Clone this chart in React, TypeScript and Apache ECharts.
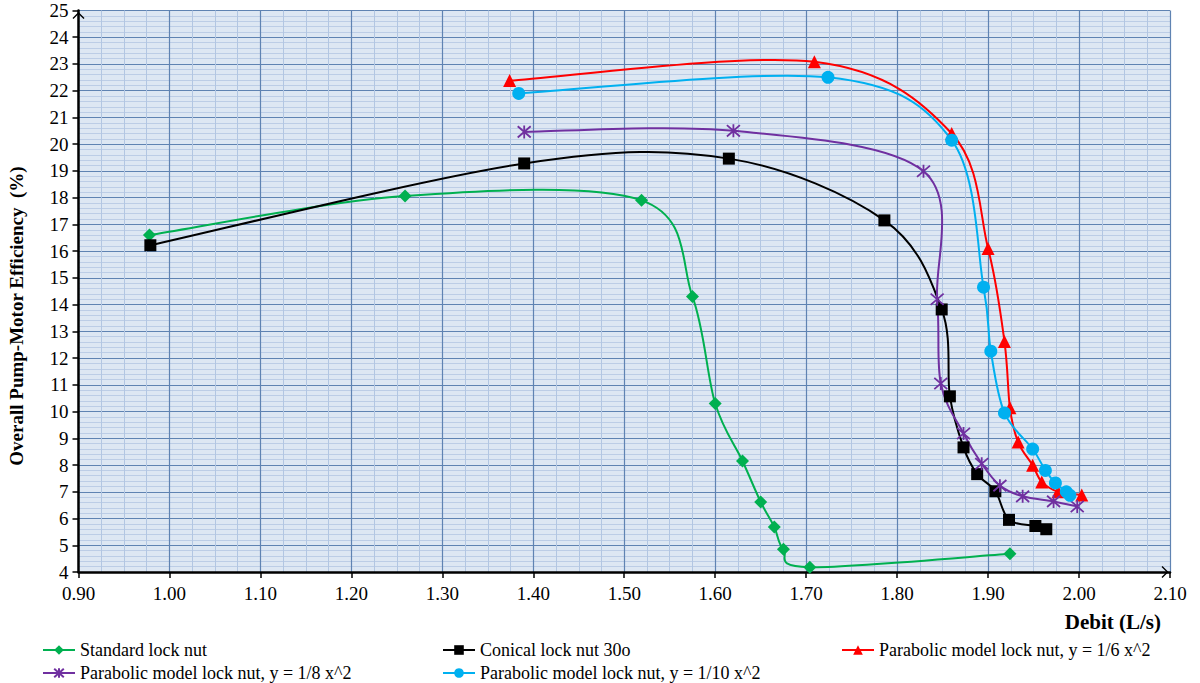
import React, { useEffect, useRef } from "react";
import * as echarts from "echarts";

const FONT = "Liberation Serif";

const seriesNames = [
  "Standard lock nut",
  "Conical lock nut 30o",
  "Parabolic model lock nut, y = 1/6 x^2",
  "Parabolic model lock nut, y = 1/8 x^2",
  "Parabolic model lock nut, y = 1/10 x^2",
];
const seriesColors = ["#00b050", "#000000", "#ff0000", "#7030a0", "#00b0f0"];

const standardX = [0.978, 1.259, 1.519, 1.575, 1.6, 1.63, 1.65, 1.665, 1.675, 1.704, 1.924];
const standardY = [16.6, 18.06, 17.9, 14.3, 10.3, 8.15, 6.62, 5.68, 4.85, 4.18, 4.68];

const conicalX = [0.979, 1.39, 1.615, 1.786, 1.849, 1.858, 1.873, 1.888, 1.908, 1.923, 1.952, 1.964];
const conicalY = [16.22, 19.28, 19.46, 17.15, 13.82, 10.57, 8.66, 7.66, 7.02, 5.95, 5.72, 5.6];

const para6X = [1.374, 1.709, 1.86, 1.9, 1.918, 1.924, 1.933, 1.949, 1.959, 1.977, 2.003];
const para6Y = [22.38, 23.08, 20.4, 16.1, 12.62, 10.14, 8.86, 7.99, 7.37, 7.0, 6.88];

const para8X = [1.39, 1.62, 1.829, 1.844, 1.848, 1.873, 1.893, 1.913, 1.938, 1.972, 1.998];
const para8Y = [20.46, 20.5, 18.99, 14.2, 11.05, 9.18, 8.05, 7.23, 6.83, 6.64, 6.45];

const para10X = [1.384, 1.724, 1.86, 1.895, 1.903, 1.918, 1.949, 1.963, 1.974, 1.986, 1.99];
const para10Y = [21.9, 22.5, 20.15, 14.65, 12.26, 9.95, 8.6, 7.8, 7.33, 7.0, 6.87];

const xTickMin = 0.9;
const xTickMax = 2.1;
const yTickMin = 4;
const yTickMax = 25;

const ARROW = "path://M0,0L10,10L8.4,11.6L0,3.2L-8.4,11.6L-10,10Z";
const ASTERISK = "path://M0,-6L0,6M-5.2,-5.2L5.2,5.2M-5.2,5.2L5.2,-5.2";

const zip = (xs: number[], ys: number[]) => xs.map((x, i) => [x, ys[i]]);

export default function App() {
  const ref = useRef<HTMLDivElement>(null);
  useEffect(() => {
    if (!ref.current) return;
    const chart = echarts.init(ref.current, undefined, { renderer: "svg" });

    // Smoothed connecting line (Excel-style Catmull-Rom), drawn through the axes' scales
    const curveSeries = (xs: number[], ys: number[], color: string) => ({
      type: "custom",
      data: zip(xs, ys),
      encode: { x: 0, y: 1 },
      clip: true,
      z: 2,
      silent: true,
      renderItem: (params: any, api: any) => {
        const i = params.dataIndex;
        const n = xs.length;
        if (i >= n - 1) return null;
        const p = (j: number) => {
          const k = Math.max(0, Math.min(n - 1, j));
          return api.coord([xs[k], ys[k]]);
        };
        const p0 = p(i - 1);
        const p1 = p(i);
        const p2 = p(i + 1);
        const p3 = p(i + 2);
        return {
          type: "bezierCurve",
          shape: {
            x1: p1[0],
            y1: p1[1],
            x2: p2[0],
            y2: p2[1],
            cpx1: p1[0] + (p2[0] - p0[0]) / 6,
            cpy1: p1[1] + (p2[1] - p0[1]) / 6,
            cpx2: p2[0] - (p3[0] - p1[0]) / 6,
            cpy2: p2[1] - (p3[1] - p1[1]) / 6,
          },
          style: { stroke: color, lineWidth: 2, fill: "none" },
        };
      },
    });

    const markerSeries = (
      name: string,
      xs: number[],
      ys: number[],
      color: string,
      symbol: string,
      size: number,
      extra: any = {}
    ) => ({
      name,
      type: "line",
      data: zip(xs, ys),
      symbol,
      symbolSize: size,
      showSymbol: true,
      lineStyle: { color, width: 2, opacity: 0 },
      itemStyle: { color, ...extra },
      z: 3,
    });

    const legendBase = {
      itemWidth: 32,
      itemHeight: 12,
      itemGap: 0,
      textStyle: { fontSize: 18, fontFamily: FONT, color: "#000" },
      lineStyle: { opacity: 1, width: 2 },
      selectedMode: false,
    };
    chart.setOption({
      animation: false,
      backgroundColor: "#ffffff",
      textStyle: { fontFamily: FONT },
      grid: {
        left: 78.5,
        right: 30,
        top: 10.5,
        bottom: 111,
        show: true,
        backgroundColor: "#dde7f3",
        borderWidth: 0,
      },
      xAxis: {
        type: "value",
        min: xTickMin,
        max: xTickMax,
        interval: 0.1,
        axisLine: {
          show: true,
          onZero: false,
          lineStyle: { color: "#000", width: 2.5 },
          symbol: ["none", ARROW],
          symbolSize: [12, 12],
          symbolOffset: [0, -5],
        },
        axisTick: { show: true, length: 6, lineStyle: { color: "#000", width: 1.5 } },
        axisLabel: {
          formatter: (v: number) => v.toFixed(2),
          fontSize: 19,
          fontFamily: FONT,
          color: "#000",
          margin: 12,
        },
        splitLine: { show: true, lineStyle: { color: "#5f83b2", width: 1.2 } },
        minorTick: { show: false, splitNumber: 4 },
        minorSplitLine: { show: true, lineStyle: { color: "#b2c6e2", width: 1 } },
      },
      yAxis: {
        type: "value",
        min: yTickMin,
        max: yTickMax,
        interval: 1,
        axisLine: {
          show: true,
          onZero: false,
          lineStyle: { color: "#000", width: 2.5 },
          symbol: ["none", ARROW],
          symbolSize: [12, 12],
          symbolOffset: [0, -5],
        },
        axisTick: { show: true, length: 6, lineStyle: { color: "#000", width: 1.5 } },
        axisLabel: { fontSize: 19, fontFamily: FONT, color: "#000", margin: 10 },
        splitLine: { show: true, lineStyle: { color: "#5f83b2", width: 1.2 } },
        minorTick: { show: false, splitNumber: 5 },
        minorSplitLine: { show: true, lineStyle: { color: "#bccde6", width: 1 } },
      },
      legend: [
        { ...legendBase, data: [seriesNames[0]], left: 37, top: 636 },
        { ...legendBase, data: [seriesNames[1]], left: 437, top: 636 },
        { ...legendBase, data: [seriesNames[2]], left: 836, top: 636 },
        { ...legendBase, data: [seriesNames[3]], left: 37, top: 659 },
        { ...legendBase, data: [seriesNames[4]], left: 437, top: 659 },
      ],
      graphic: [
        {
          type: "text",
          x: 1161,
          y: 622,
          style: {
            text: "Debit (L/s)",
            fontFamily: FONT,
            fontWeight: "bold",
            fontSize: 21,
            fill: "#000",
            align: "right",
            verticalAlign: "middle",
          },
        },
        {
          type: "text",
          x: 16,
          y: 316,
          rotation: Math.PI / 2,
          style: {
            text: "Overall Pump-Motor Efficiency  (%)",
            fontFamily: FONT,
            fontWeight: "bold",
            fontSize: 19,
            fill: "#000",
            align: "center",
            verticalAlign: "middle",
          },
        },
      ],
      series: [
        curveSeries(standardX, standardY, seriesColors[0]),
        curveSeries(conicalX, conicalY, seriesColors[1]),
        curveSeries(para6X, para6Y, seriesColors[2]),
        curveSeries(para8X, para8Y, seriesColors[3]),
        curveSeries(para10X, para10Y, seriesColors[4]),
        markerSeries(seriesNames[0], standardX, standardY, seriesColors[0], "diamond", 13),
        markerSeries(seriesNames[1], conicalX, conicalY, seriesColors[1], "rect", 12),
        markerSeries(seriesNames[2], para6X, para6Y, seriesColors[2], "triangle", 13),
        markerSeries(seriesNames[3], para8X, para8Y, seriesColors[3], ASTERISK, 13, {
          borderColor: seriesColors[3],
          borderWidth: 1.8,
        }),
        markerSeries(seriesNames[4], para10X, para10Y, seriesColors[4], "circle", 13),
      ],
    });
    return () => chart.dispose();
  }, []);
  return (
    <div
      ref={ref}
      style={{ position: "fixed", left: 0, top: 0, width: 1200, height: 683 }}
    />
  );
}
